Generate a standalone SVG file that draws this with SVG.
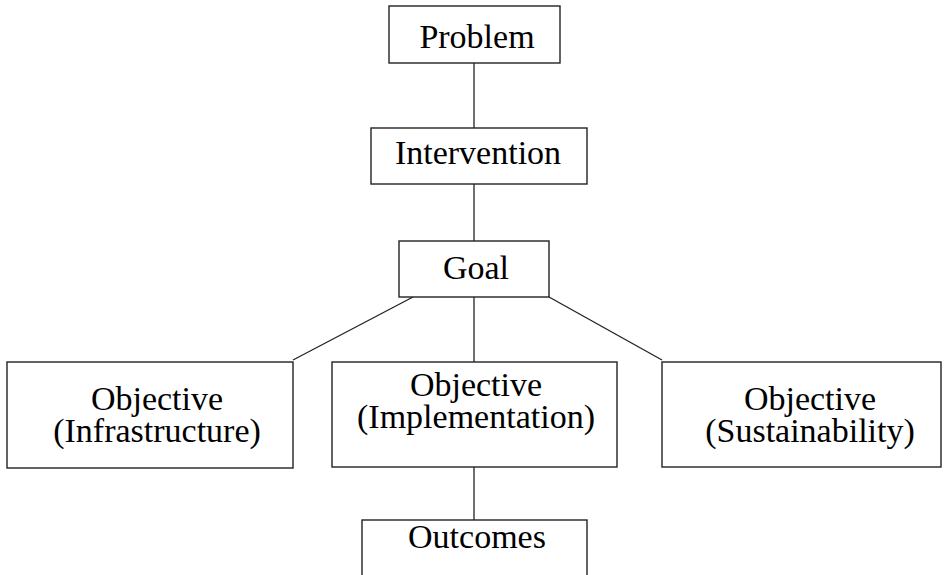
<svg xmlns="http://www.w3.org/2000/svg" width="947" height="575" viewBox="0 0 947 575">
<style>
.box{fill:#fff;stroke:#222;stroke-width:1.4}
.t{font-family:"Liberation Serif","Times New Roman",serif;font-size:34px;fill:#000;text-anchor:middle}
.c{stroke:#222;stroke-width:1.3;fill:none}
</style>
<rect width="947" height="575" fill="#fff"/>
<g id="connectors">
<line class="c" x1="474" y1="63" x2="474" y2="128"/>
<line class="c" x1="474" y1="184" x2="474" y2="241"/>
<line class="c" x1="474" y1="297" x2="474" y2="362"/>
<line class="c" x1="413" y1="297" x2="293" y2="360"/>
<line class="c" x1="549" y1="297" x2="662" y2="360"/>
<line class="c" x1="474" y1="467" x2="474" y2="520"/>
</g>
<g id="problem"><rect class="box" x="389" y="6" width="171" height="57"/><text class="t" x="477" y="48">Problem</text></g>
<g id="intervention"><rect class="box" x="371" y="128" width="216" height="56"/><text class="t" x="478" y="164">Intervention</text></g>
<g id="goal"><rect class="box" x="399" y="241" width="150" height="56"/><text class="t" x="476" y="279">Goal</text></g>
<g id="obj-infra"><rect class="box" x="7" y="362" width="286" height="106"/><text class="t" x="157" y="410">Objective</text><text class="t" x="157" y="442">(Infrastructure)</text></g>
<g id="obj-impl"><rect class="box" x="332" y="362" width="285" height="105"/><text class="t" x="476" y="396">Objective</text><text class="t" x="476" y="428">(Implementation)</text></g>
<g id="obj-sust"><rect class="box" x="662" y="362" width="279" height="105"/><text class="t" x="810" y="410">Objective</text><text class="t" x="810" y="442">(Sustainability)</text></g>
<g id="outcomes"><rect class="box" x="362" y="520" width="225" height="70"/><text class="t" x="477" y="548">Outcomes</text></g>
</svg>
